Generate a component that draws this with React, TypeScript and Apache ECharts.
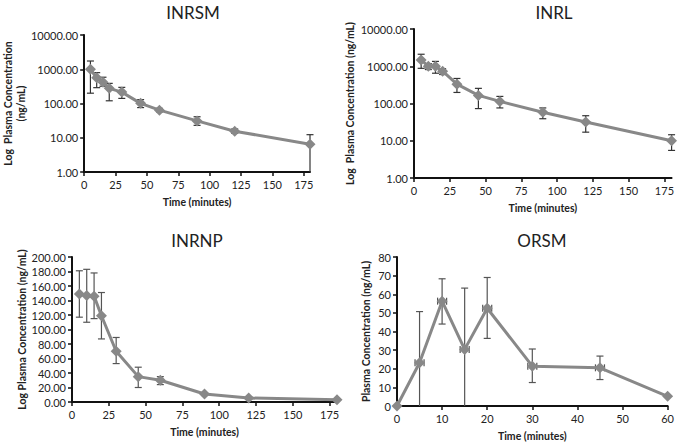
import React, { useEffect, useRef } from "react";
import * as echarts from "echarts";

const timesA = [5, 10, 15, 20, 30, 45, 60, 90, 120, 180];

const inrsmMean = [1000, 560, 420, 277, 215, 101, 64, 31, 15.5, 6.5];
const inrsmHigh = [1740, 795, 585, 387, 296, 130, 72, 41, 18, 12.3];
const inrsmLow = [200, 290, 320, 120, 141, 76, 57, 23, 13.5, 1];

const inrlMean = [1480, 1000, 1000, 735, 330, 165, 114, 58, 32, 10];
const inrlHigh = [2100, 1180, 1350, 860, 470, 255, 155, 76, 47, 14.5];
const inrlLow = [880, 815, 650, 600, 198, 73, 76, 39, 17, 5.5];

const inrnpMean = [149, 147, 146, 119, 70, 35, 30, 11, 5.5, 3.2];
const inrnpHigh = [181, 183, 178, 151, 89, 48, 35, 13, 7, 4];
const inrnpLow = [117, 110, 115, 87, 53, 20, 24, 9, 4, 2.5];

const timesB = [0, 5, 10, 15, 20, 30, 45, 60];
const orsmMean = [0, 23.2, 56.3, 30.4, 52.5, 21.4, 20.5, 5.2];
const orsmHigh = [0, 50.7, 68.3, 63.3, 69, 30.6, 26.8, 5.2];
const orsmLow = [0, 0, 44, 0, 36.3, 12.6, 14.2, 5.2];
const orsmXErr = [0, 1, 1, 1, 1, 1, 1, 0];

const titles = ["INRSM", "INRL", "INRNP", "ORSM"];
const yNames = [
  "Log  Plasma Concentration\n(ng/mL)",
  "Log  Plasma Concentration (ng/mL)",
  "Log Plasma Concentration (ng/mL)",
  "Plasma Concentration (ng/mL)",
];
const xName = "Time (minutes)";

const FONT = "Lato, 'Open Sans', sans-serif";
const LINE = "#888888";

function errRender(color: string, capW: number) {
  return (params: any, api: any) => {
    const x = api.value(0);
    const lo = api.value(1);
    const hi = api.value(2);
    const xe = api.value(3);
    const m = api.value(4);
    const pHi = api.coord([x, hi]);
    const pLo = api.coord([x, lo]);
    const children: any[] = [];
    const st = { stroke: color, lineWidth: 1.2 };
    if (hi !== lo) {
      children.push({ type: "line", shape: { x1: pHi[0], y1: pHi[1], x2: pLo[0], y2: pLo[1] }, style: st });
      children.push({ type: "line", shape: { x1: pHi[0] - capW, y1: pHi[1], x2: pHi[0] + capW, y2: pHi[1] }, style: st });
      if (params.dataIndex >= 0 && lo > params.context.minY) {
        children.push({ type: "line", shape: { x1: pLo[0] - capW, y1: pLo[1], x2: pLo[0] + capW, y2: pLo[1] }, style: st });
      }
    }
    if (xe > 0) {
      const pL = api.coord([x - xe, m]);
      const pR = api.coord([x + xe, m]);
      children.push({ type: "line", shape: { x1: pL[0], y1: pL[1], x2: pR[0], y2: pR[1] }, style: st });
      children.push({ type: "line", shape: { x1: pL[0], y1: pL[1] - capW, x2: pL[0], y2: pL[1] + capW }, style: st });
      children.push({ type: "line", shape: { x1: pR[0], y1: pR[1] - capW, x2: pR[0], y2: pR[1] + capW }, style: st });
    }
    return { type: "group", children };
  };
}

function makeErr(idx: number, xs: number[], mean: number[], lo: number[], hi: number[], xe: number[] | null, color: string, minY: number) {
  const render = errRender(color, 3.5);
  return {
    type: "custom",
    xAxisIndex: idx,
    yAxisIndex: idx,
    z: 1,
    silent: true,
    encode: { x: 0, y: [1, 2] },
    data: xs.map((x, i) => [x, lo[i], hi[i], xe ? xe[i] : 0, mean[i]]),
    renderItem: (params: any, api: any) => {
      params.context.minY = minY;
      return render(params, api);
    },
  };
}

function makeLine(idx: number, xs: number[], mean: number[]) {
  return {
    type: "line",
    xAxisIndex: idx,
    yAxisIndex: idx,
    z: 3,
    data: xs.map((x, i) => [x, mean[i]]),
    symbol: "diamond",
    symbolSize: 11,
    lineStyle: { color: LINE, width: 3 },
    itemStyle: { color: LINE },
  };
}

const axisLineStyle = { show: true, lineStyle: { color: "#111", width: 2 } };
const tickStyle = { show: true, length: 4, lineStyle: { color: "#111", width: 1.5 } };
const labelStyle = { color: "#222", fontSize: 11, fontFamily: FONT };
const nameStyle = { color: "#222", fontSize: 10.5, fontWeight: "bold" as const, fontFamily: FONT };

function xAxis(idx: number, max: number, interval: number) {
  return {
    type: "value",
    gridIndex: idx,
    min: 0,
    max,
    interval,
    name: xName,
    nameLocation: "middle",
    nameGap: 24,
    nameTextStyle: nameStyle,
    axisLine: axisLineStyle,
    axisTick: tickStyle,
    axisLabel: { ...labelStyle, margin: 7, showMaxLabel: max % interval === 0 },
    splitLine: { show: false },
  };
}

function yAxisLog(idx: number, name: string, gap: number) {
  return {
    type: "log",
    logBase: 10,
    gridIndex: idx,
    min: 1,
    max: 10000,
    name,
    nameLocation: "middle",
    nameGap: gap,
    nameTextStyle: { ...nameStyle, lineHeight: 13 },
    axisLine: axisLineStyle,
    axisTick: tickStyle,
    axisLabel: { ...labelStyle, margin: 6, formatter: (v: number) => v.toFixed(2) },
    splitLine: { show: false },
    minorTick: { show: false },
  };
}

function yAxisLin(idx: number, name: string, gap: number, max: number, interval: number, dec: number) {
  return {
    type: "value",
    gridIndex: idx,
    min: 0,
    max,
    interval,
    name,
    nameLocation: "middle",
    nameGap: gap,
    nameTextStyle: nameStyle,
    axisLine: axisLineStyle,
    axisTick: tickStyle,
    axisLabel: { ...labelStyle, margin: 6, formatter: (v: number) => v.toFixed(dec) },
    splitLine: { show: false },
  };
}

export default function App() {
  const ref = useRef<HTMLDivElement>(null);
  useEffect(() => {
    document.body.style.margin = "0";
    const chart = echarts.init(ref.current!, null, { renderer: "svg" });
    const titlePos = [
      [193, 12],
      [554, 12],
      [197, 240],
      [542, 240],
    ];
    chart.setOption({
      animation: false,
      backgroundColor: "#ffffff",
      grid: [
        { left: 80, top: 35, width: 230, height: 137 },
        { left: 414, top: 29, width: 260, height: 149 },
        { left: 72, top: 257, width: 265, height: 145 },
        { left: 397, top: 257, width: 275, height: 149 },
      ],
      xAxis: [xAxis(0, 180, 25), xAxis(1, 180, 25), xAxis(2, 180, 25), xAxis(3, 60, 10)],
      yAxis: [
        yAxisLog(0, yNames[0], 50),
        yAxisLog(1, yNames[1], 56),
        yAxisLin(2, yNames[2], 42, 200, 20, 2),
        yAxisLin(3, yNames[3], 26, 80, 10, 0),
      ],
      graphic: titles.map((t, i) => ({
        type: "text",
        x: titlePos[i][0],
        y: titlePos[i][1],
        style: {
          text: t,
          fill: "#222",
          font: `17px ${FONT}`,
          textAlign: "center",
          textVerticalAlign: "middle",
        },
      })),
      series: [
        makeErr(0, timesA, inrsmMean, inrsmLow, inrsmHigh, null, "#333", 1),
        makeLine(0, timesA, inrsmMean),
        makeErr(1, timesA, inrlMean, inrlLow, inrlHigh, null, "#333", 1),
        makeLine(1, timesA, inrlMean),
        makeErr(2, timesA, inrnpMean, inrnpLow, inrnpHigh, null, "#555", 0),
        makeLine(2, timesA, inrnpMean),
        makeErr(3, timesB, orsmMean, orsmLow, orsmHigh, orsmXErr, "#555", 0),
        makeLine(3, timesB, orsmMean),
      ],
    });
    return () => chart.dispose();
  }, []);
  return <div ref={ref} style={{ position: "absolute", left: 0, top: 0, width: 677, height: 443 }} />;
}
